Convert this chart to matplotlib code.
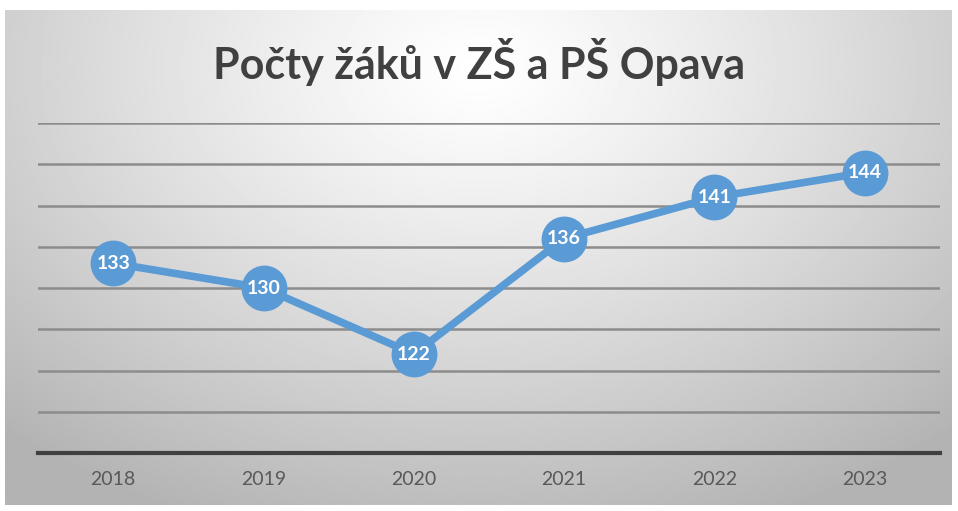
import numpy as np
import matplotlib.pyplot as plt

years = ['2018', '2019', '2020', '2021', '2022', '2023']
pupils = [133, 130, 122, 136, 141, 144]

plt.rcParams['font.family'] = ['Lato', 'DejaVu Sans']

fig = plt.figure(figsize=(9.58, 5.11), dpi=100)

# radial grey gradient behind the chart
bg = fig.add_axes([5 / 958, 6 / 511, 947 / 958, 495 / 511])
yy, xx = np.mgrid[0:1:300j, 0:1:600j]
r = np.sqrt(((xx - 0.5) / 0.75) ** 2 + ((yy - 0.12) / 1.0) ** 2)
shade = 1.0 - 0.3 * np.clip(r, 0, 1) ** 1.2
bg.imshow(shade, cmap='gray', vmin=0, vmax=1, aspect='auto', extent=[0, 1, 0, 1], origin='upper')
bg.axis('off')

ax = fig.add_axes([38 / 958, 58 / 511, 902 / 958, 330 / 511])
ax.patch.set_alpha(0)
x = np.arange(len(years))
ax.plot(x, pupils, color='#5b9bd5', lw=5.5, marker='o', ms=32, zorder=3)
for xi, v in zip(x, pupils):
    ax.text(xi, v, str(v), color='white', fontsize=14, fontweight='bold',
            ha='center', va='center', zorder=4)

ax.set_xlim(-0.5, len(years) - 0.5)
ax.set_ylim(110, 150)
ax.set_yticks(np.arange(115, 151, 5))
ax.set_yticklabels([])
ax.tick_params(axis='y', length=0)
ax.grid(axis='y', color='#8c8c8c', lw=1.8)
ax.set_xticks(x)
ax.set_xticklabels(years, fontsize=14, color='#595959')
ax.tick_params(axis='x', length=0, pad=13)
for s in ['top', 'right', 'left']:
    ax.spines[s].set_visible(False)
ax.spines['bottom'].set_color('#404040')
ax.spines['bottom'].set_linewidth(3)

fig.text(0.5, 1 - 62 / 511, 'Počty žáků v ZŠ a PŠ Opava', ha='center', va='center',
         fontsize=31, fontweight='bold', color='#404040')

fig.savefig('out.png', dpi=100)
